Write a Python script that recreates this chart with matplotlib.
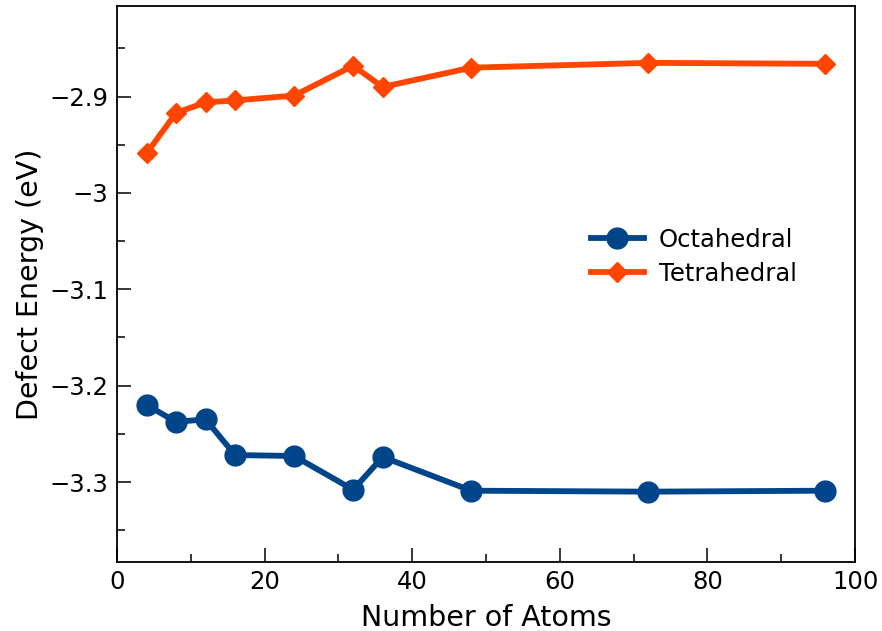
import matplotlib
matplotlib.use("Agg")
import matplotlib.pyplot as plt
from matplotlib.ticker import MultipleLocator

atoms = [4, 8, 12, 16, 24, 32, 36, 48, 72, 96]
octahedral = [-3.220, -3.2375, -3.235, -3.272, -3.273, -3.308, -3.274, -3.309, -3.310, -3.309]
tetrahedral = [-2.959, -2.917, -2.906, -2.904, -2.899, -2.868, -2.890, -2.870, -2.865, -2.866]

blue = "#00458A"
orange = "#FF4500"

plt.rcParams['font.family'] = ['DejaVu Sans']
fig = plt.figure(figsize=(8.82, 6.31), dpi=100)
ax = fig.add_axes([117/882, 1-562/631, (855-117)/882, (562-6)/631])

ax.plot(atoms, octahedral, '-o', color=blue, lw=4.2, ms=15, label='Octahedral')
ax.plot(atoms, tetrahedral, '-D', color=orange, lw=4.2, ms=10, label='Tetrahedral')

ax.set_xlim(0, 100)
ax.set_ylim(-3.383, -2.806)
ax.xaxis.set_major_locator(MultipleLocator(20))
ax.xaxis.set_minor_locator(MultipleLocator(10))
ax.yaxis.set_minor_locator(MultipleLocator(0.05))
ax.set_yticks([-3.3, -3.2, -3.1, -3.0, -2.9])
ax.set_yticklabels(['\u22123.3', '\u22123.2', '\u22123.1', '\u22123', '\u22122.9'])

ax.tick_params(which='both', direction='in', top=False, right=False, labelsize=17.5, width=1.1, pad=6)
ax.tick_params(which='major', length=10)
ax.tick_params(which='minor', length=6)
for s in ax.spines.values():
    s.set_linewidth(1.3)

ax.set_xlabel('Number of Atoms', fontsize=20.5, labelpad=7)
ax.set_ylabel('Defect Energy (eV)', fontsize=20.5, labelpad=4)

ax.legend(loc='center left', bbox_to_anchor=(0.612, 0.549), frameon=False, fontsize=17.5,
          handlelength=2.2, handletextpad=0.6, labelspacing=0.4)

fig.savefig('out.png', dpi=100)
